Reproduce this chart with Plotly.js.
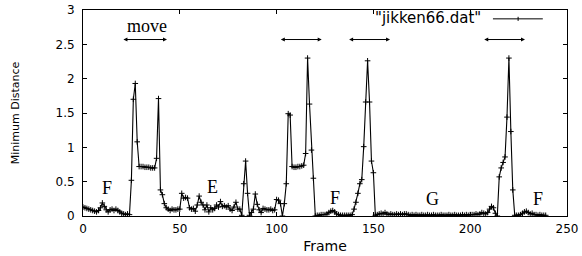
<!DOCTYPE html>
<html>
<head>
<meta charset="utf-8">
<script src="https://cdn.plot.ly/plotly-3.0.1.min.js"></script>
<style>html,body{margin:0;padding:0;background:#fff;}#chart{width:582px;height:256px;}</style>
</head>
<body>
<div id="chart"></div>
<script>
// Minimum distance per frame (frames 0..239)
const minDistance = [
  0.13,0.12,0.11,0.10,0.09,0.08,0.07,0.06,0.08,0.12,
  0.19,0.14,0.09,0.06,0.09,0.10,0.08,0.10,0.08,0.06,
  0.04,0.03,0.02,0.03,0.02,0.52,1.70,1.93,1.08,0.72,
  0.72,0.72,0.71,0.71,0.71,0.70,0.70,0.70,0.84,1.71,
  0.38,0.31,0.18,0.12,0.10,0.08,0.10,0.09,0.09,0.10,
  0.10,0.33,0.26,0.27,0.26,0.12,0.10,0.11,0.07,0.16,
  0.29,0.20,0.16,0.09,0.16,0.06,0.12,0.09,0.11,0.16,
  0.13,0.21,0.14,0.15,0.13,0.15,0.10,0.08,0.13,0.20,
  0.10,0.10,0.01,0.47,0.80,0.33,0.01,0.05,0.10,0.32,
  0.17,0.09,0.05,0.11,0.10,0.09,0.09,0.10,0.08,0.09,
  0.24,0.23,0.18,0.00,0.18,0.47,1.49,1.47,0.72,0.71,
  0.71,0.72,0.72,0.73,0.74,0.91,2.30,1.63,0.96,0.55,
  0.00,0.01,0.01,0.02,0.02,0.02,0.03,0.05,0.07,0.08,
  0.06,0.03,0.02,0.01,0.01,0.01,0.01,0.01,0.01,0.02,
  0.10,0.20,0.33,0.47,0.53,1.01,1.66,2.26,1.66,0.80,
  0.63,0.01,0.02,0.03,0.04,0.03,0.05,0.03,0.02,0.03,
  0.02,0.02,0.03,0.02,0.03,0.02,0.03,0.03,0.02,0.01,
  0.02,0.01,0.02,0.01,0.01,0.02,0.01,0.01,0.02,0.01,
  0.01,0.02,0.01,0.01,0.01,0.02,0.01,0.01,0.01,0.02,
  0.01,0.01,0.02,0.01,0.01,0.01,0.02,0.01,0.02,0.01,
  0.02,0.02,0.02,0.03,0.02,0.03,0.05,0.04,0.03,0.05,
  0.10,0.14,0.12,0.04,0.00,0.57,0.70,0.78,0.86,1.44,
  2.30,1.23,0.38,0.01,0.01,0.01,0.02,0.04,0.06,0.07,
  0.05,0.03,0.04,0.02,0.02,0.01,0.02,0.01,0.01,0.01
];
const frames = minDistance.map((_, i) => i);
const seriesName = '"jikken66.dat"';

// Phase labels (text, frame, distance)
const phaseLabels = ['F', 'E', 'F', 'G', 'F'];
const phaseX = [12.5, 67, 130, 180.5, 235];
const phaseY = [0.41, 0.42, 0.26, 0.245, 0.245];

// "move" intervals (start frame, end frame)
const moveStart = [20.1, 101.4, 136.7, 206.5];
const moveEnd = [43.4, 123.3, 158.6, 228.3];
const moveArrowY = 2.57;
const moveText = 'move';
const moveTextX = 33;
const moveTextY = 2.76;

const annotations = [];
phaseLabels.forEach((t, i) => annotations.push({
  x: phaseX[i], y: phaseY[i], xref: 'x', yref: 'y', text: t, showarrow: false,
  font: {family: 'Liberation Serif, Times New Roman, serif', size: 18, color: '#000'}
}));
annotations.push({
  x: moveTextX, y: moveTextY, xref: 'x', yref: 'y', text: moveText, showarrow: false,
  font: {family: 'Liberation Serif, Times New Roman, serif', size: 18, color: '#000'}
});
moveStart.forEach((s, i) => annotations.push({
  x: moveEnd[i], y: moveArrowY, ax: s, ay: moveArrowY, xref: 'x', yref: 'y', axref: 'x', ayref: 'y',
  text: '', showarrow: true, arrowside: 'end+start', arrowhead: 2, arrowsize: 0.8, arrowwidth: 1,
  arrowcolor: '#000', standoff: 0, startstandoff: 0
}));
// legend (text left of sample, as gnuplot draws it)
annotations.push({
  x: 0.826, y: 0.962, xref: 'paper', yref: 'paper', xanchor: 'right', yanchor: 'middle',
  text: seriesName, showarrow: false,
  font: {family: 'DejaVu Sans, sans-serif', size: 15, color: '#000'}
});

const shapes = [
  {type: 'line', xref: 'paper', yref: 'paper', x0: 0.847, x1: 0.950, y0: 0.957, y1: 0.957, line: {color: '#000', width: 1}},
  {type: 'line', xref: 'paper', yref: 'paper', x0: 0.899, x1: 0.899, y0: 0.947, y1: 0.967, line: {color: '#000', width: 1}}
];

const trace = {
  x: frames, y: minDistance, type: 'scatter', mode: 'lines+markers', name: seriesName,
  line: {color: '#000', width: 1.1},
  marker: {symbol: 'cross-thin-open', size: 4, color: '#000', line: {color: '#000', width: 1}},
  showlegend: false
};

const axisCommon = {
  showgrid: false, zeroline: false, showline: true, linecolor: '#000', linewidth: 1,
  mirror: 'ticks', ticks: 'inside', ticklen: 4, tickcolor: '#000', tickwidth: 1,
  tickfont: {family: 'DejaVu Sans, sans-serif', size: 12, color: '#000'}
};

const layout = {
  width: 582, height: 256,
  margin: {l: 83, r: 15, t: 10, b: 40},
  paper_bgcolor: '#fff', plot_bgcolor: '#fff',
  xaxis: Object.assign({}, axisCommon, {
    range: [0, 250], dtick: 50, tick0: 0, ticklabelstandoff: 2,
    title: {text: 'Frame', font: {family: 'DejaVu Sans, sans-serif', size: 14, color: '#000'}, standoff: 5}
  }),
  yaxis: Object.assign({}, axisCommon, {
    range: [0, 3], dtick: 0.5, tick0: 0, ticklabelstandoff: 5,
    title: {text: 'Minimum Distance', font: {family: 'DejaVu Sans, sans-serif', size: 11, color: '#000'}, standoff: 33}
  }),
  annotations: annotations,
  shapes: shapes,
  showlegend: false
};

Plotly.newPlot('chart', [trace], layout, {displayModeBar: false, staticPlot: true});
</script>
</body>
</html>
